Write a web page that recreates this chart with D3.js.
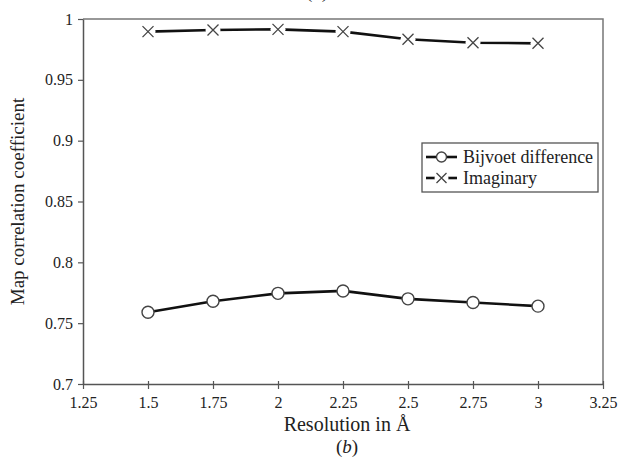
<!DOCTYPE html>
<html>
<head>
<meta charset="utf-8">
<script src="https://cdn.jsdelivr.net/npm/d3@7"></script>
<style>
  body { margin: 0; background: #fff; }
  text { font-family: "Liberation Serif", "Times New Roman", serif; fill: #222; }
</style>
</head>
<body>
<div id="chart"></div>
<script>
// data
const resolution = [1.5, 1.75, 2, 2.25, 2.5, 2.75, 3];
const bijvoet = [0.759, 0.768, 0.7745, 0.7765, 0.770, 0.767, 0.764];
const imaginary = [0.9896, 0.991, 0.9915, 0.9896, 0.9833, 0.9805, 0.980];
const xTicks = [1.25, 1.5, 1.75, 2, 2.25, 2.5, 2.75, 3, 3.25];
const yTicks = [0.7, 0.75, 0.8, 0.85, 0.9, 0.95, 1];
const seriesNames = ["Bijvoet difference", "Imaginary"];

const W = 622, H = 461;
const MARGIN = { LEFT: 83, RIGHT: 19, TOP: 19, BOTTOM: 77 };
const WIDTH = W - MARGIN.LEFT - MARGIN.RIGHT;
const HEIGHT = H - MARGIN.TOP - MARGIN.BOTTOM;

const svg = d3.select("#chart").append("svg")
  .attr("width", W)
  .attr("height", H);

const g = svg.append("g")
  .attr("transform", `translate(${MARGIN.LEFT}, ${MARGIN.TOP})`);

// scales
const x = d3.scaleLinear().domain([1.25, 3.25]).range([0, WIDTH]);
const y = d3.scaleLinear().domain([0.7, 1]).range([HEIGHT, 0]);

// frame (top + right)
g.append("path")
  .attr("d", `M0,0H${WIDTH}V${HEIGHT}`)
  .attr("fill", "none")
  .attr("stroke", "#777")
  .attr("stroke-width", 1.5);

// axes
const xAxis = g.append("g")
  .attr("transform", `translate(0, ${HEIGHT})`)
  .call(d3.axisBottom(x).tickValues(xTicks).tickSize(5).tickSizeOuter(0)
    .tickFormat(d => String(d)));
const yAxis = g.append("g")
  .call(d3.axisLeft(y).tickValues(yTicks).tickSize(5).tickSizeOuter(0)
    .tickFormat(d => String(d)));

[xAxis, yAxis].forEach(a => {
  a.select(".domain").attr("stroke", "#555").attr("stroke-width", 1.5);
  a.selectAll(".tick line").attr("stroke", "#555").attr("stroke-width", 1.2);
  a.selectAll(".tick text")
    .attr("font-family", "Liberation Serif, serif")
    .attr("font-size", 16)
    .attr("fill", "#333");
});
xAxis.selectAll(".tick text").attr("dy", "1.0em");
yAxis.selectAll(".tick text").attr("x", -10);
// tick at 1.25 crosses the axis a bit
xAxis.selectAll(".tick line").attr("y1", -3);

// line generator
const line = d3.line()
  .x(d => x(d[0]))
  .y(d => y(d[1]));

const bijData = resolution.map((r, i) => [r, bijvoet[i]]);
const imgData = resolution.map((r, i) => [r, imaginary[i]]);

g.append("path")
  .attr("d", line(bijData))
  .attr("fill", "none")
  .attr("stroke", "#111")
  .attr("stroke-width", 2.6);

g.append("path")
  .attr("d", line(imgData))
  .attr("fill", "none")
  .attr("stroke", "#111")
  .attr("stroke-width", 2.6);

// markers
g.selectAll(".circ").data(bijData).enter().append("circle")
  .attr("cx", d => x(d[0]))
  .attr("cy", d => y(d[1]))
  .attr("r", 6)
  .attr("fill", "#fff")
  .attr("stroke", "#444")
  .attr("stroke-width", 1.4);

function cross(sel, s) {
  sel.append("circle").attr("r", s + 2).attr("fill", "#fff");
  sel.append("path")
    .attr("d", `M${-s},${-s}L${s},${s}M${-s},${s}L${s},${-s}`)
    .attr("stroke", "#444")
    .attr("stroke-width", 1.3)
    .attr("fill", "none");
}

g.selectAll(".xm").data(imgData).enter().append("g")
  .attr("transform", d => `translate(${x(d[0])}, ${y(d[1])})`)
  .each(function () { cross(d3.select(this), 5.5); });

// legend
const legend = svg.append("g").attr("transform", "translate(422, 143)");
legend.append("rect")
  .attr("width", 176)
  .attr("height", 49)
  .attr("fill", "#fff")
  .attr("stroke", "#555")
  .attr("stroke-width", 1.3);

seriesNames.forEach((name, i) => {
  const row = legend.append("g").attr("transform", `translate(0, ${14 + i * 21})`);
  row.append("line")
    .attr("x1", 4).attr("x2", 35)
    .attr("stroke", "#111").attr("stroke-width", 2.6);
  if (i === 0) {
    row.append("circle")
      .attr("cx", 19.5).attr("r", 5)
      .attr("fill", "#fff").attr("stroke", "#444").attr("stroke-width", 1.4);
  } else {
    const m = row.append("g").attr("transform", "translate(19.5, 0)");
    cross(m, 5);
  }
  row.append("text")
    .attr("x", 41)
    .attr("dy", "0.35em")
    .attr("font-size", 18)
    .text(name);
});

// axis labels
svg.append("text")
  .attr("transform", "rotate(-90)")
  .attr("x", -(MARGIN.TOP + HEIGHT / 2))
  .attr("y", 24)
  .attr("text-anchor", "middle")
  .attr("font-size", 19)
  .text("Map correlation coefficient");

svg.append("text")
  .attr("x", 347)
  .attr("y", 431)
  .attr("text-anchor", "middle")
  .attr("font-size", 20)
  .text("Resolution in Å");

const cap = svg.append("text")
  .attr("x", 347)
  .attr("y", 453)
  .attr("text-anchor", "middle")
  .attr("font-size", 19)
  .text("(");
cap.append("tspan").attr("font-style", "italic").text("b");
cap.append("tspan").text(")");

// bottom of the previous panel caption, cut off at the top
const capA = svg.append("text")
  .attr("x", 317)
  .attr("y", -2)
  .attr("text-anchor", "middle")
  .attr("font-size", 19)
  .text("(");
capA.append("tspan").attr("font-style", "italic").text("a");
capA.append("tspan").text(")");
</script>
</body>
</html>
